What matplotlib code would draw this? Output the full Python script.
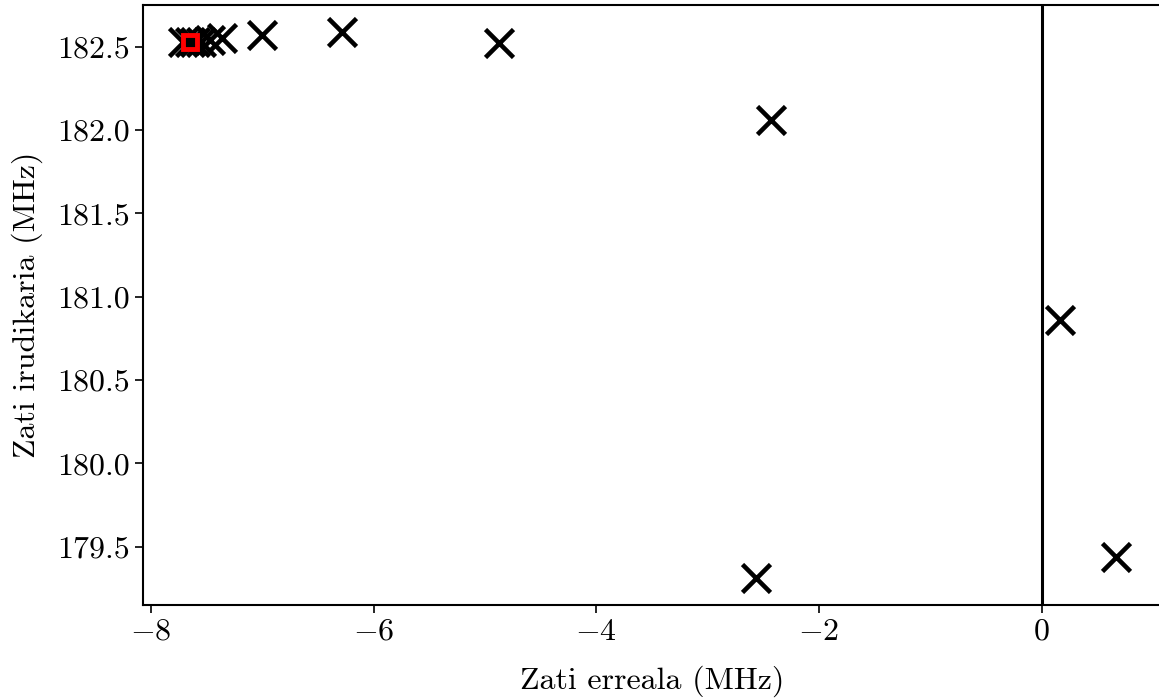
import numpy as np
import matplotlib
matplotlib.use("Agg")
import matplotlib.pyplot as plt

plt.rcParams['font.family'] = 'serif'
plt.rcParams['font.serif'] = ['cmr10']
plt.rcParams['mathtext.fontset'] = 'cm'
plt.rcParams['axes.formatter.use_mathtext'] = True
plt.rcParams['font.size'] = 23

# polo posizioak (MHz)
re_parts = [-7.71, -7.65, -7.60, -7.55, -7.47, -7.36, -7.0, -6.28, -4.87, -2.43, 0.16, 0.67, -2.57]
im_parts = [182.53, 182.53, 182.53, 182.53, 182.54, 182.55, 182.57, 182.59, 182.52, 182.06, 180.86, 179.44, 179.31]
# hasierako puntua
start_re = [-7.65]
start_im = [182.53]

fig = plt.figure(figsize=(11.59, 6.98), dpi=100)
ax = fig.add_axes([143/1159, 1-605/698, (1162-143)/1159, 600/698])

ax.axvline(0, color='k', lw=2.2)
ax.plot(re_parts, im_parts, 'x', color='k', ms=20, mew=3.3, ls='none')
ax.plot(start_re, start_im, 's', mfc='none', mec='red', ms=10, mew=3.5, ls='none')

ax.set_xlim(-8.07, 1.08)
ax.set_ylim(179.15, 182.75)
ax.set_xticks([-8, -6, -4, -2, 0])
ax.set_yticks([179.5, 180.0, 180.5, 181.0, 181.5, 182.0, 182.5])
ax.set_yticklabels(['179.5', '180.0', '180.5', '181.0', '181.5', '182.0', '182.5'])
ax.tick_params(length=6, width=1.2)
for s in ax.spines.values():
    s.set_linewidth(1.5)

ax.set_xlabel('Zati erreala (MHz)', labelpad=14)
ax.set_ylabel('Zati irudikaria (MHz)', labelpad=10)

fig.savefig('out.png', dpi=100)
